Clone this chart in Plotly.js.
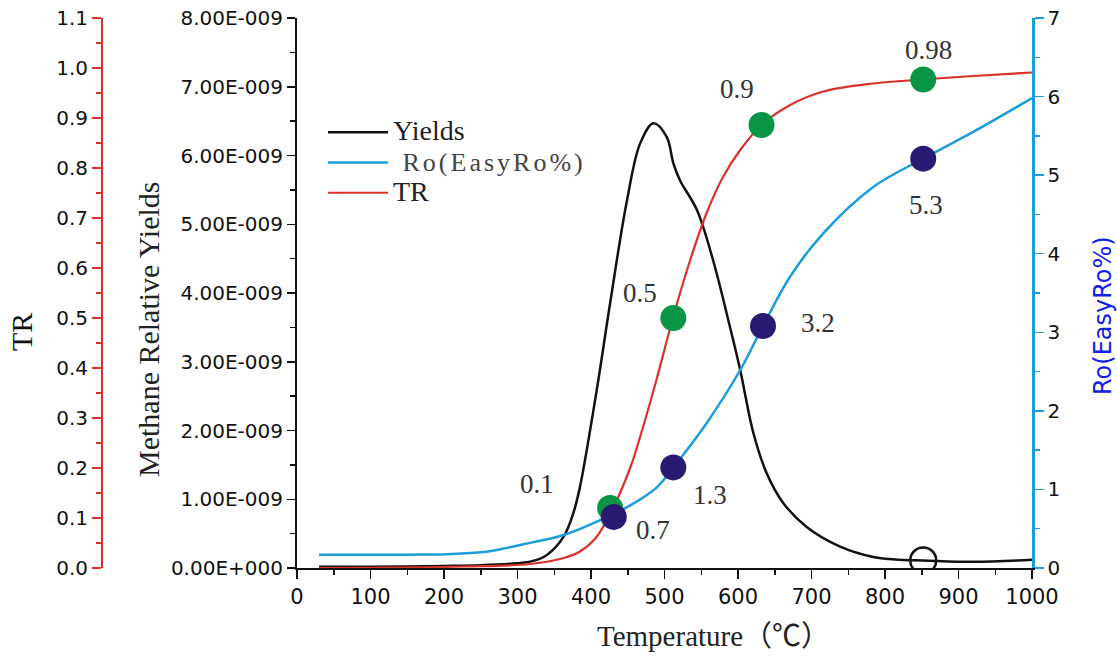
<!DOCTYPE html>
<html>
<head>
<meta charset="utf-8">
<script src="https://cdn.plot.ly/plotly-3.0.1.min.js"></script>
<style>
  html, body { margin: 0; padding: 0; background: #fff; }
  #chart { width: 1117px; height: 656px; }
</style>
</head>
<body>
<div id="chart"></div>
<script>
// ---------- data ----------
const tempYields = [30, 100, 200, 250, 300, 320, 340, 363, 376, 385, 408, 426, 449, 467, 485, 503, 512, 521, 544, 566, 589, 603, 621, 639, 662, 693, 739, 784, 820, 852, 920, 1000];
const yieldsE9   = [0.02, 0.02, 0.03, 0.04, 0.07, 0.10, 0.19, 0.46, 0.80, 1.18, 2.60, 3.85, 5.35, 6.18, 6.47, 6.27, 5.89, 5.64, 5.21, 4.48, 3.51, 2.88, 1.96, 1.38, 0.94, 0.60, 0.31, 0.16, 0.12, 0.11, 0.09, 0.12];

const tempRo = [30, 150, 204, 250, 272, 317, 363, 408, 454, 490, 512, 557, 603, 634, 671, 716, 784, 852, 920, 1000];
const roVals = [0.17, 0.17, 0.175, 0.20, 0.23, 0.32, 0.42, 0.59, 0.80, 1.03, 1.28, 1.84, 2.52, 3.08, 3.71, 4.26, 4.85, 5.21, 5.55, 5.98];

const tempTR = [30, 227, 317, 363, 385, 408, 431, 454, 467, 489, 512, 535, 557, 580, 603, 632, 671, 716, 784, 852, 920, 1000];
const trVals = [0.0, 0.003, 0.008, 0.02, 0.033, 0.063, 0.123, 0.203, 0.263, 0.376, 0.503, 0.616, 0.709, 0.783, 0.836, 0.886, 0.926, 0.953, 0.969, 0.977, 0.984, 0.991];

const trDotTemp  = [426, 512, 632, 852];
const trDotVals  = [0.12, 0.50, 0.886, 0.977];
const trDotLabel = ['0.1', '0.5', '0.9', '0.98'];

const roDotTemp  = [431, 512, 634, 852];
const roDotVals  = [0.65, 1.28, 3.08, 5.21];
const roDotLabel = ['0.7', '1.3', '3.2', '5.3'];

const openTemp = [852];
const openYieldE9 = [0.11];

const yieldTickVals = [0, 1, 2, 3, 4, 5, 6, 7, 8];
const yieldTickText = ['0.00E+000', '1.00E-009', '2.00E-009', '3.00E-009', '4.00E-009', '5.00E-009', '6.00E-009', '7.00E-009', '8.00E-009'];

// ---------- styles (label offsets in pixels) ----------
const trLabelShift = [[-73, 24], [-33, 25], [-25, 36], [5, 30]];
const roLabelShift = [[39, -13], [37, -28], [55, 3], [3, -46]];

const W = 1117, H = 656;
const px = v => v / W;
const py = v => (H - v) / H;

const SERIF = 'Liberation Serif, Times New Roman, serif';
const SANS = 'DejaVu Sans, sans-serif';
const BLACK = '#111111';
const BLUE = '#1b9ddb';
const RED = '#d8322a';
const GREEN = '#0a9445';
const NAVY = '#2a1b72';

const scale = v => v * 1e-9;

const traces = [
  { x: tempYields, y: yieldsE9.map(scale), name: '<span style="font-size:28px">Yields</span>', type: 'scatter', mode: 'lines',
    xaxis: 'x', yaxis: 'y', line: { color: BLACK, width: 2.5, shape: 'spline', smoothing: 1 } },
  { x: tempRo, y: roVals, name: '<span style="font-size:26px;letter-spacing:3px;fill:#444"> Ro(EasyRo%)</span>', type: 'scatter', mode: 'lines',
    xaxis: 'x', yaxis: 'y3', line: { color: BLUE, width: 2.5, shape: 'spline', smoothing: 1 } },
  { x: tempTR, y: trVals, name: '<span style="font-size:28px">TR</span>', type: 'scatter', mode: 'lines',
    xaxis: 'x', yaxis: 'y2', line: { color: RED, width: 2.2, shape: 'spline', smoothing: 1 } },
  { x: openTemp, y: openYieldE9.map(scale), type: 'scatter', mode: 'markers', showlegend: false,
    xaxis: 'x', yaxis: 'y', marker: { symbol: 'circle-open', size: 26, color: BLACK, line: { width: 2.5, color: BLACK } } },
  { x: trDotTemp, y: trDotVals, type: 'scatter', mode: 'markers', showlegend: false,
    xaxis: 'x', yaxis: 'y2', marker: { size: 26, color: GREEN } },
  { x: roDotTemp, y: roDotVals, type: 'scatter', mode: 'markers', showlegend: false,
    xaxis: 'x', yaxis: 'y3', marker: { size: 26, color: NAVY } }
];

const labelFont = { family: SERIF, size: 27, color: '#333' };
const annotations = [];
trDotTemp.forEach((t, i) => annotations.push({
  x: t, y: trDotVals[i], xref: 'x', yref: 'y2', text: trDotLabel[i], showarrow: false,
  xshift: trLabelShift[i][0], yshift: trLabelShift[i][1], font: labelFont }));
roDotTemp.forEach((t, i) => annotations.push({
  x: t, y: roDotVals[i], xref: 'x', yref: 'y3', text: roDotLabel[i], showarrow: false,
  xshift: roLabelShift[i][0], yshift: roLabelShift[i][1], font: labelFont }));

annotations.push(
  { text: 'Temperature（℃）', xref: 'paper', yref: 'paper', x: px(713), y: py(636), showarrow: false,
    xanchor: 'center', yanchor: 'middle', font: { family: SERIF + ', Noto Sans CJK SC', size: 29, color: '#222' } },
  { text: 'Methane Relative Yields', xref: 'paper', yref: 'paper', x: px(148), y: py(330), showarrow: false,
    textangle: -90, xanchor: 'center', yanchor: 'middle', font: { family: SERIF, size: 30, color: '#222' } },
  { text: 'TR', xref: 'paper', yref: 'paper', x: px(21), y: py(332), showarrow: false,
    textangle: -90, xanchor: 'center', yanchor: 'middle', font: { family: SERIF, size: 30, color: '#111111' } },
  { text: 'Ro(EasyRo%)', xref: 'paper', yref: 'paper', x: px(1103), y: py(316), showarrow: false,
    textangle: -90, xanchor: 'center', yanchor: 'middle', font: { family: SANS, size: 24, color: '#1020e6' } }
);

const xDom = [px(297), px(1032)];
const yDom = [py(568), py(18)];

const layout = {
  width: W, height: H, autosize: false,
  margin: { l: 0, r: 0, t: 0, b: 0, pad: 0 },
  paper_bgcolor: '#fff', plot_bgcolor: 'rgba(0,0,0,0)',
  showlegend: true,
  legend: { x: px(323), y: py(112), xanchor: 'left', yanchor: 'top', bgcolor: 'rgba(0,0,0,0)',
    font: { family: SERIF, size: 21, color: '#222' }, itemwidth: 60, tracegroupgap: 0 },
  xaxis: { domain: xDom, range: [0, 1000], anchor: 'y', tickmode: 'linear', tick0: 0, dtick: 100,
    ticks: 'outside', ticklen: 9, tickwidth: 1.5, tickcolor: BLACK,
    minor: { tickmode: 'linear', tick0: 0, dtick: 50, ticks: 'outside', ticklen: 5, tickwidth: 1.5, tickcolor: BLACK },
    showline: true, linecolor: BLACK, linewidth: 2, showgrid: false, zeroline: false,
    tickfont: { family: SANS, size: 21, color: BLACK }, fixedrange: true },
  xaxis2: { domain: xDom, range: [0, 1000], anchor: 'y', overlaying: 'x', side: 'top', tickmode: 'linear', tick0: 0, dtick: 100,
    ticks: 'inside', ticklen: 9, tickwidth: 1.5, tickcolor: BLACK, showticklabels: false,
    minor: { tickmode: 'linear', tick0: 0, dtick: 50, ticks: 'inside', ticklen: 5, tickwidth: 1.5, tickcolor: BLACK },
    showline: true, linecolor: BLACK, linewidth: 2, showgrid: false, zeroline: false },
  yaxis: { domain: yDom, range: [0, scale(8)], anchor: 'x', side: 'left', tickmode: 'array',
    tickvals: yieldTickVals.map(scale), ticktext: yieldTickText,
    ticks: 'outside', ticklen: 8, tickwidth: 1.5, tickcolor: BLACK,
    minor: { tickmode: 'linear', tick0: 0, dtick: scale(0.5), ticks: 'outside', ticklen: 5, tickwidth: 1.5, tickcolor: BLACK },
    showline: true, linecolor: BLACK, linewidth: 2, showgrid: false, zeroline: false,
    tickfont: { family: SANS, size: 20, color: BLACK } },
  yaxis2: { domain: yDom, range: [0, 1.1], anchor: 'free', overlaying: 'y', side: 'left', position: px(102),
    tickmode: 'linear', tick0: 0, dtick: 0.1, tickformat: '.1f',
    ticks: 'outside', ticklen: 9, tickwidth: 1.5, tickcolor: RED,
    minor: { tickmode: 'linear', tick0: 0, dtick: 0.05, ticks: 'outside', ticklen: 5, tickwidth: 1.5, tickcolor: RED },
    showline: true, linecolor: RED, linewidth: 2, showgrid: false, zeroline: false,
    tickfont: { family: SANS, size: 20, color: BLACK } },
  yaxis3: { domain: yDom, range: [0, 7], anchor: 'x', overlaying: 'y', side: 'right',
    tickmode: 'linear', tick0: 0, dtick: 1,
    ticks: 'outside', ticklen: 9, tickwidth: 1.5, tickcolor: BLUE,
    minor: { tickmode: 'linear', tick0: 0, dtick: 0.5, ticks: 'outside', ticklen: 5, tickwidth: 1.5, tickcolor: BLUE },
    showline: true, linecolor: BLUE, linewidth: 2.5, showgrid: false, zeroline: false,
    tickfont: { family: SANS, size: 20, color: BLACK } },
  annotations: annotations
};

Plotly.newPlot('chart', traces, layout, { displayModeBar: false, staticPlot: true });
</script>
</body>
</html>
